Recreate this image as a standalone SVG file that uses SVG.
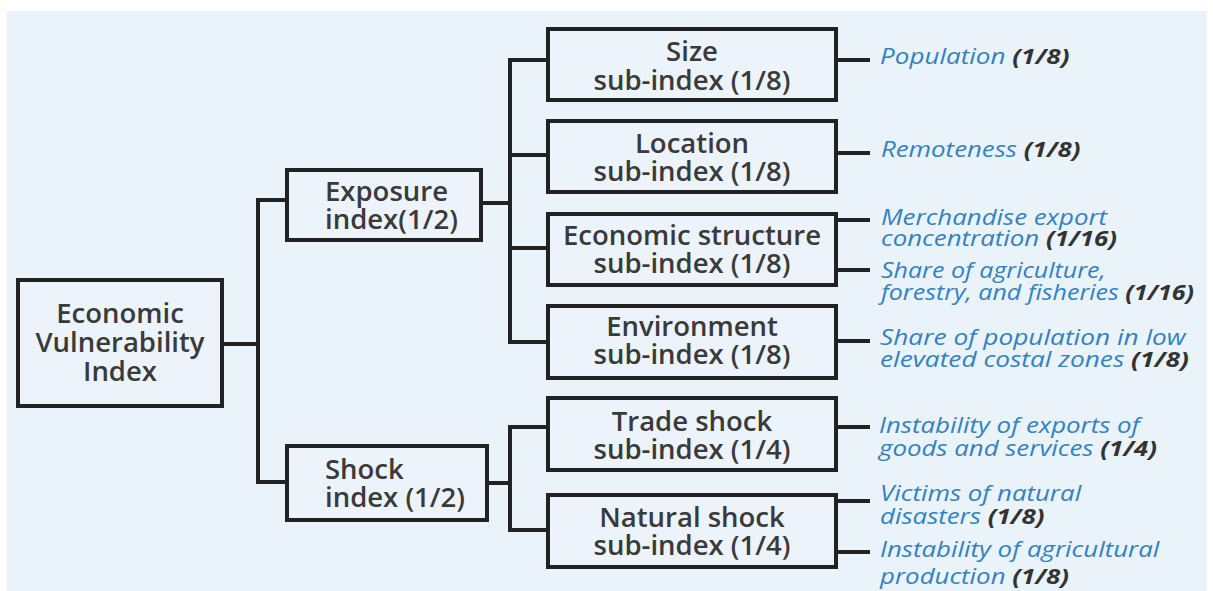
<svg xmlns="http://www.w3.org/2000/svg" width="1213" height="591" viewBox="0 0 1213 591">
<style>
.bg{fill:#eaf2fa}
.box{fill:#ecf3fb;stroke:#222;stroke-width:4}
.c{stroke:#222;stroke-width:4;fill:none;stroke-linejoin:miter}
.t{font-family:"Open Sans","Liberation Sans",sans-serif;font-size:27.5px;font-weight:600;fill:#3a3a3a;text-anchor:middle}
.tl{text-anchor:start}
.b{font-family:"Open Sans","Liberation Sans",sans-serif;font-size:21px;font-style:italic;font-weight:500;fill:#3282c2}
.w{font-weight:bold;fill:#333}
</style>
<rect width="1213" height="591" fill="#ffffff"/>
<rect class="bg" x="7" y="11" width="1200" height="580"/>

<g id="connectors">
  <path class="c" d="M222,344H258 M287,200H258V482H287"/>
  <path class="c" d="M481,203H510 M548,60H510V342H548 M510,155H548 M510,248H548"/>
  <path class="c" d="M487,483H510 M548,427H510V530H548"/>
  <path class="c" d="M836,60H870 M836,153H870 M836,220H870 M836,270H870 M836,341H870 M836,427H870 M836,501H870 M836,552H870"/>
</g>

<g id="evi">
  <rect class="box" x="18" y="280" width="204" height="126"/>
  <text class="t" x="120" y="323">Economic</text>
  <text class="t" x="120" y="352">Vulnerability</text>
  <text class="t" x="120" y="381">Index</text>
</g>

<g id="exposure">
  <rect class="box" x="287" y="170" width="194" height="70"/>
  <text class="t tl" x="325" y="201">Exposure</text>
  <text class="t tl" x="325" y="229">index(1/2)</text>
</g>

<g id="shock">
  <rect class="box" x="287" y="446" width="200" height="74"/>
  <text class="t tl" x="325" y="479">Shock</text>
  <text class="t tl" x="325" y="507">index (1/2)</text>
</g>

<g id="size">
  <rect class="box" x="548" y="29" width="288" height="71"/>
  <text class="t" x="692" y="61">Size</text>
  <text class="t" x="692" y="90">sub-index (1/8)</text>
</g>

<g id="location">
  <rect class="box" x="548" y="121" width="288" height="71"/>
  <text class="t" x="692" y="153">Location</text>
  <text class="t" x="692" y="181">sub-index (1/8)</text>
</g>

<g id="economic-structure">
  <rect class="box" x="548" y="214" width="288" height="71"/>
  <text class="t" x="692" y="245">Economic structure</text>
  <text class="t" x="692" y="273">sub-index (1/8)</text>
</g>

<g id="environment">
  <rect class="box" x="548" y="306" width="288" height="72"/>
  <text class="t" x="692" y="336">Environment</text>
  <text class="t" x="692" y="364">sub-index (1/8)</text>
</g>

<g id="trade-shock">
  <rect class="box" x="548" y="398" width="288" height="72"/>
  <text class="t" x="692" y="431">Trade shock</text>
  <text class="t" x="692" y="459">sub-index (1/4)</text>
</g>

<g id="natural-shock">
  <rect class="box" x="548" y="495" width="288" height="72"/>
  <text class="t" x="692" y="527">Natural shock</text>
  <text class="t" x="692" y="555">sub-index (1/4)</text>
</g>

<g id="population">
  <text class="b" transform="translate(880,64) scale(1.24,1)">Population <tspan class="w">(1/8)</tspan></text>
</g>
<g id="remoteness">
  <text class="b" transform="translate(881,157) scale(1.23,1)">Remoteness <tspan class="w">(1/8)</tspan></text>
</g>
<g id="merchandise">
  <text class="b" transform="translate(881,225) scale(1.23,1)"><tspan x="0">Merchandise export</tspan><tspan x="0" dy="21">concentration <tspan class="w">(1/16)</tspan></tspan></text>
</g>
<g id="agriculture">
  <text class="b" transform="translate(881,278) scale(1.19,1)"><tspan x="0">Share of agriculture,</tspan><tspan x="0" dy="22">forestry, and fisheries <tspan class="w">(1/16)</tspan></tspan></text>
</g>
<g id="costal">
  <text class="b" transform="translate(880,345) scale(1.25,1)"><tspan x="0">Share of population in low</tspan><tspan x="0" dy="22">elevated costal zones <tspan class="w">(1/8)</tspan></tspan></text>
</g>
<g id="exports">
  <text class="b" transform="translate(879,433) scale(1.23,1)"><tspan x="0">Instability of exports of</tspan><tspan x="0" dy="23">goods and services <tspan class="w">(1/4)</tspan></tspan></text>
</g>
<g id="victims">
  <text class="b" transform="translate(880,501) scale(1.23,1)"><tspan x="0">Victims of natural</tspan><tspan x="0" dy="23">disasters <tspan class="w">(1/8)</tspan></tspan></text>
</g>
<g id="agricultural">
  <text class="b" transform="translate(880,557) scale(1.23,1)"><tspan x="0">Instability of agricultural</tspan><tspan x="0" dy="27">production <tspan class="w">(1/8)</tspan></tspan></text>
</g>
</svg>
